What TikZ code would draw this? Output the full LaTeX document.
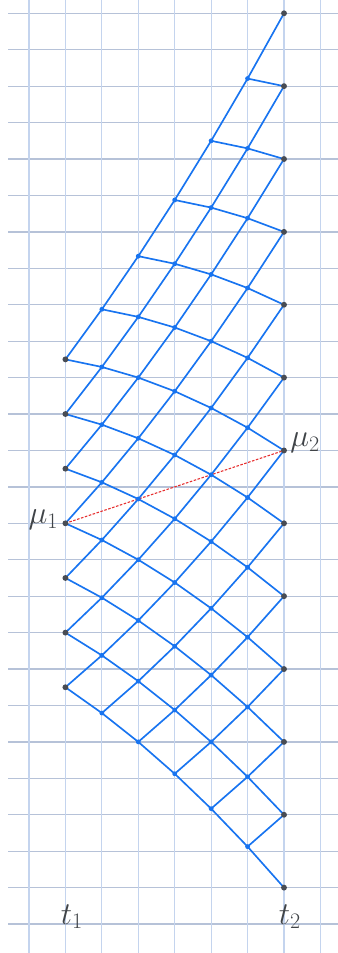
\documentclass[tikz,border=0pt]{standalone}
\usetikzlibrary{calc}
\DeclareMathSizes{24.88}{24.88}{17.28}{12}
\definecolor{gridh}{RGB}{182,194,216}
\definecolor{gridv}{RGB}{196,212,238}
\definecolor{netblue}{RGB}{24,116,240}
\definecolor{enddot}{RGB}{72,76,84}
\definecolor{labelgray}{RGB}{64,68,72}
\definecolor{bridgered}{RGB}{230,50,50}
\tikzset{
  gridhline/.style={draw=gridh, line width=1pt},
  gridvline/.style={draw=gridv, line width=1pt},
  netedge/.style={draw=netblue, line width=1.3pt, line cap=round},
  innerdot/.style={circle, fill=netblue, inner sep=0pt, minimum size=3.8pt},
  outerdot/.style={circle, fill=enddot, inner sep=0pt, minimum size=4.6pt},
  bridge/.style={draw=bridgered, line width=0.9pt, dash pattern=on 2pt off 1.2pt},
  biglabel/.style={text=labelgray, inner sep=0pt, font=\fontsize{24.88}{30}\selectfont}
}
\begin{document}
\begin{tikzpicture}
\useasboundingbox (-0.796,0.365) rectangle (8.482,-25.795);
% grid
\foreach \k in {0,...,25} {
  \draw[gridhline] (-0.576,-\k) -- (8.482,-\k);
}
\foreach \j in {0,...,8} {
  \draw[gridvline] (\j,0.365) -- (\j,-25.795);
}
% lattice node positions
\foreach \c in {0,...,6} {
  \pgfmathtruncatemacro{\La}{6-\c}
  \pgfmathtruncatemacro{\Lb}{8-\c}
  \pgfmathtruncatemacro{\Le}{18+\c}
  \foreach \L in {\La,\Lb,...,\Le} {
    \coordinate (n-\c-\L) at ({1+\c}, {-(14-\c/3+(0.75+\c/24)*(\L-12))});
  }
}
% edges
\foreach \c in {0,...,5} {
  \pgfmathtruncatemacro{\La}{6-\c}
  \pgfmathtruncatemacro{\Lb}{8-\c}
  \pgfmathtruncatemacro{\Le}{18+\c}
  \pgfmathtruncatemacro{\cn}{\c+1}
  \foreach \L in {\La,\Lb,...,\Le} {
    \pgfmathtruncatemacro{\Lu}{\L-1}
    \pgfmathtruncatemacro{\Ld}{\L+1}
    \draw[netedge] (n-\c-\L) -- (n-\cn-\Lu);
    \draw[netedge] (n-\c-\L) -- (n-\cn-\Ld);
  }
}
% bridge line
\draw[bridge] (n-0-12) -- (n-6-12);
% dots
\foreach \c in {1,...,5} {
  \pgfmathtruncatemacro{\La}{6-\c}
  \pgfmathtruncatemacro{\Lb}{8-\c}
  \pgfmathtruncatemacro{\Le}{18+\c}
  \foreach \L in {\La,\Lb,...,\Le} {
    \node[innerdot] (d-\c-\L) at (n-\c-\L) {};
  }
}
\foreach \L in {6,8,...,18} { \node[outerdot] (d-0-\L) at (n-0-\L) {}; }
\foreach \L in {0,2,...,24} { \node[outerdot] (d-6-\L) at (n-6-\L) {}; }
% labels
\node[biglabel, anchor=base east] (mu1) at ($(n-0-12)+(-0.19,0)$) {$\mu_1$};
\node[biglabel, anchor=base west] (mu2) at ($(n-6-12)+(0.165,0.11)$) {$\mu_2$};
\node[biglabel, anchor=base] (t1) at (1.18,-25) {$t_1$};
\node[biglabel, anchor=base] (t2) at (7.16,-25) {$t_2$};
\end{tikzpicture}
\end{document}
